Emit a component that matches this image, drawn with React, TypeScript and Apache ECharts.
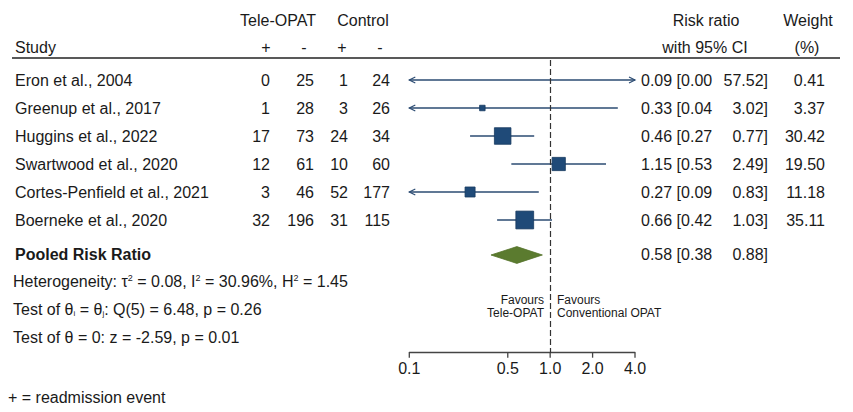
import React, { useEffect, useRef } from "react";
import * as echarts from "echarts";

// ---------- data ----------
const studies = [
  "Eron et al., 2004",
  "Greenup et al., 2017",
  "Huggins et al., 2022",
  "Swartwood et al., 2020",
  "Cortes-Penfield et al., 2021",
  "Boerneke et al., 2020",
];
const teleEvents = [0, 1, 17, 12, 3, 32];
const teleNonEvents = [25, 28, 73, 61, 46, 196];
const ctrlEvents = [1, 3, 24, 10, 52, 31];
const ctrlNonEvents = [24, 26, 34, 60, 177, 115];
const riskRatio = [0.09, 0.33, 0.46, 1.15, 0.27, 0.66];
const ciLow = [0.0, 0.04, 0.27, 0.53, 0.09, 0.42];
const ciHigh = [57.52, 3.02, 0.77, 2.49, 0.83, 1.03];
const weights = [0.41, 3.37, 30.42, 19.5, 11.18, 35.11];
const pooledRR = [0.58];
const pooledLow = [0.38];
const pooledHigh = [0.88];
const xTicks = [0.1, 0.5, 1.0, 2.0, 4.0];

const pooledLabel = "Pooled Risk Ratio";
const heterogeneityText = "Heterogeneity: τ{sup|2} = 0.08, I{sup|2} = 30.96%, H{sup|2} = 1.45";
const testHomText = "Test of θ{sub|i} = θ{sub|j}: Q(5) = 6.48, p = 0.26";
const testZeroText = "Test of θ = 0: z = -2.59, p = 0.01";
const footnote = "+ = readmission event";

// ---------- layout / style ----------
const X_MIN = 0.1;
const X_MAX = 4.0;
const Y_MIN = -0.7143;
const Y_MAX = 9.7393;
const POOLED_ROW = 6.25;
const FONT = "'Liberation Sans', Arial, Helvetica, sans-serif";
const TXT = "#1a1a1a";
const NAVY = "#1f4a78";
const LINE = "#2b4b72";
const GREEN = "#5b7b2f";

const fmt2 = (v: number) => v.toFixed(2);

function txt(text: string, x: number, y: number, align: string, extra: any = {}) {
  return {
    type: "text",
    x,
    y,
    style: {
      text,
      fill: TXT,
      fontSize: 16,
      fontFamily: FONT,
      align,
      textAlign: align,
      verticalAlign: "middle",
      textVerticalAlign: "middle",
      ...extra,
    },
  };
}

export default function App() {
  const ref = useRef<HTMLDivElement>(null);

  useEffect(() => {
    const chart = echarts.init(ref.current!, null, { renderer: "svg" });

    const colRight = [270, 314, 348, 390];

    const option: any = {
      animation: false,
      grid: { left: 409.3, width: 225.7, top: 60, height: 292.7, containLabel: false },
      xAxis: {
        type: "log",
        logBase: 10,
        min: X_MIN,
        max: X_MAX,
        position: "bottom",
        axisLine: { show: true, onZero: false, lineStyle: { color: "#444", width: 1.3 } },
        axisTick: { show: false },
        axisLabel: { show: false },
        splitLine: { show: false },
      },
      yAxis: {
        type: "value",
        inverse: true,
        min: Y_MIN,
        max: Y_MAX,
        show: false,
        splitLine: { show: false },
      },
      graphic: [
        txt("Tele-OPAT", 278, 20, "center"),
        txt("Control", 363, 20, "center"),
        txt("Study", 15, 47, "left"),
        txt("+", 266, 47, "center"),
        txt("-", 304, 47, "center"),
        txt("+", 342, 47, "center"),
        txt("-", 380, 47, "center"),
        txt("Risk ratio", 706, 20, "center"),
        txt("with 95% CI", 705, 47, "center"),
        txt("Weight", 808, 20, "center"),
        txt("(%)", 807, 47, "center"),
        {
          type: "line",
          shape: { x1: 12, y1: 58, x2: 840, y2: 58 },
          style: { stroke: "#222", lineWidth: 1.5 },
        },
        txt(heterogeneityText, 13, 281, "left", {
          rich: {
            sup: { fontSize: 9, fontFamily: FONT, fill: TXT, verticalAlign: "top", lineHeight: 10 },
          },
        }),
        txt(testHomText, 13, 309, "left", {
          rich: {
            sub: { fontSize: 8, fontFamily: FONT, fill: TXT, verticalAlign: "bottom", lineHeight: 8 },
          },
        }),
        txt(testZeroText, 13, 337, "left"),
        txt("Favours", 544, 300, "right", { fontSize: 12 }),
        txt("Tele-OPAT", 544, 313, "right", { fontSize: 12 }),
        txt("Favours", 557, 300, "left", { fontSize: 12 }),
        txt("Conventional OPAT", 557, 313, "left", { fontSize: 12 }),
        txt(footnote, 8, 397, "left"),
      ],
      series: [
        // study table texts
        {
          type: "custom",
          coordinateSystem: "cartesian2d",
          encode: { x: 0, y: 1 },
          clip: false,
          silent: true,
          data: studies.map((_, i) => [1, i]),
          renderItem: (params: any, api: any) => {
            const i = params.dataIndex;
            const y = api.coord([1, api.value(1)])[1];
            return {
              type: "group",
              children: [
                txt(studies[i], 15, y, "left"),
                txt(String(teleEvents[i]), colRight[0], y, "right"),
                txt(String(teleNonEvents[i]), colRight[1], y, "right"),
                txt(String(ctrlEvents[i]), colRight[2], y, "right"),
                txt(String(ctrlNonEvents[i]), colRight[3], y, "right"),
                txt(fmt2(riskRatio[i]) + " [" + fmt2(ciLow[i]), 641, y, "left"),
                txt(fmt2(ciHigh[i]) + "]", 768, y, "right"),
                txt(fmt2(weights[i]), 825, y, "right"),
              ],
            };
          },
        },
        // forest marks
        {
          type: "custom",
          coordinateSystem: "cartesian2d",
          encode: { x: 0, y: 1 },
          clip: false,
          silent: true,
          data: riskRatio.map((v, i) => [v, i, ciLow[i], ciHigh[i], weights[i]]),
          renderItem: (params: any, api: any) => {
            const est = api.value(0);
            const row = api.value(1);
            const lo = api.value(2);
            const hi = api.value(3);
            const w = api.value(4);
            const a = api.coord([Math.max(lo, X_MIN), row]);
            const b = api.coord([Math.min(hi, X_MAX), row]);
            const children: any[] = [
              {
                type: "line",
                shape: { x1: a[0], y1: a[1], x2: b[0], y2: b[1] },
                style: { stroke: LINE, lineWidth: 1.3 },
              },
            ];
            if (lo < X_MIN) {
              children.push({
                type: "polyline",
                shape: { points: [[a[0] + 6, a[1] - 3], [a[0], a[1]], [a[0] + 6, a[1] + 3]] },
                style: { stroke: LINE, lineWidth: 1.2, fill: "none" },
              });
            }
            if (hi > X_MAX) {
              children.push({
                type: "polyline",
                shape: { points: [[b[0] - 6, b[1] - 3], [b[0], b[1]], [b[0] - 6, b[1] + 3]] },
                style: { stroke: LINE, lineWidth: 1.2, fill: "none" },
              });
            }
            if (est >= X_MIN && est <= X_MAX) {
              const c = api.coord([est, row]);
              const s = 3.0 * Math.sqrt(w);
              children.push({
                type: "rect",
                shape: { x: c[0] - s / 2, y: c[1] - s / 2, width: s, height: s },
                style: { fill: NAVY, stroke: "#173a60", lineWidth: 0.8 },
              });
            }
            return { type: "group", children };
          },
          markLine: {
            silent: true,
            symbol: "none",
            label: { show: false },
            lineStyle: { color: "#333", width: 1.2, type: [6, 3] },
            data: [{ xAxis: 1 }],
          },
        },
        // pooled diamond + text
        {
          type: "custom",
          coordinateSystem: "cartesian2d",
          encode: { x: 0, y: 1 },
          clip: false,
          silent: true,
          data: pooledRR.map((v, i) => [v, POOLED_ROW, pooledLow[i], pooledHigh[i]]),
          renderItem: (params: any, api: any) => {
            const i = params.dataIndex;
            const est = api.value(0);
            const row = api.value(1);
            const l = api.coord([api.value(2), row]);
            const r = api.coord([api.value(3), row]);
            const top = api.coord([est, row - 0.3]);
            const bot = api.coord([est, row + 0.3]);
            return {
              type: "group",
              children: [
                {
                  type: "polygon",
                  shape: { points: [l, top, r, bot] },
                  style: { fill: GREEN, stroke: "#55732b", lineWidth: 0.8 },
                },
                txt(pooledLabel, 15, l[1], "left", { fontWeight: "bold" }),
                txt(fmt2(pooledRR[i]) + " [" + fmt2(pooledLow[i]), 641, l[1], "left"),
                txt(fmt2(pooledHigh[i]) + "]", 768, l[1], "right"),
              ],
            };
          },
        },
        // x-axis ticks and labels
        {
          type: "custom",
          coordinateSystem: "cartesian2d",
          encode: { x: 0, y: 1 },
          clip: false,
          silent: true,
          data: xTicks.map((v) => [v, Y_MAX]),
          renderItem: (params: any, api: any) => {
            const v = api.value(0);
            const p = api.coord([v, api.value(1)]);
            return {
              type: "group",
              children: [
                {
                  type: "line",
                  shape: { x1: p[0], y1: p[1], x2: p[0], y2: p[1] + 5 },
                  style: { stroke: "#444", lineWidth: 1.3 },
                },
                txt(v.toFixed(1), p[0], p[1] + 15.5, "center"),
              ],
            };
          },
        },
      ],
    };

    chart.setOption(option);
    return () => chart.dispose();
  }, []);

  return (
    <div
      ref={ref}
      style={{ position: "absolute", left: 0, top: 0, width: 853, height: 412, background: "#fff" }}
    />
  );
}
